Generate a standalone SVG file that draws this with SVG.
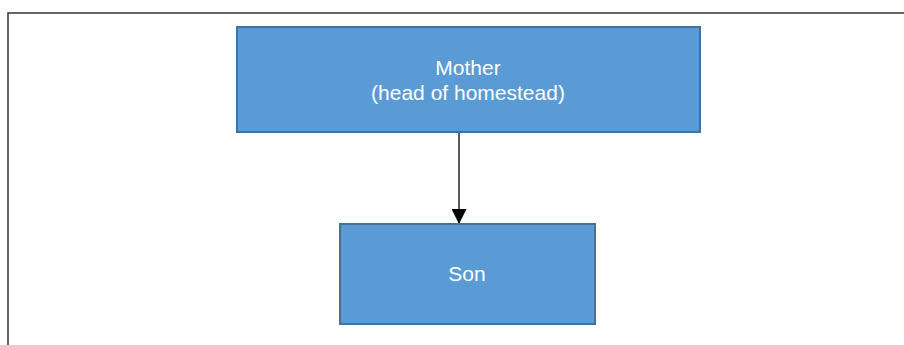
<svg xmlns="http://www.w3.org/2000/svg" width="904" height="345" viewBox="0 0 904 345">
<style>
.node{fill:#5b9bd5;stroke:#41719c;stroke-width:2}
.lbl{font-family:"Liberation Sans",Arial,sans-serif;font-size:21px;fill:#ffffff;text-anchor:middle}
.frame{fill:none;stroke:#333333;stroke-width:1.5}
.conn{stroke:#000000;stroke-width:1.3;fill:none}
</style>
<defs>
<marker id="arr" markerWidth="15" markerHeight="15" refX="15" refY="7.5" orient="auto" markerUnits="userSpaceOnUse">
<path d="M0,0 L15,7.5 L0,15 Z" fill="#000000"/>
</marker>
</defs>
<rect class="frame" x="8" y="13" width="910" height="350"/>
<g id="connectors">
<line class="conn" x1="459" y1="132" x2="459" y2="224" marker-end="url(#arr)"/>
</g>
<g id="mother">
<rect class="node" x="237" y="27" width="463" height="105"/>
<text class="lbl" x="468" y="75">Mother</text>
<text class="lbl" x="468" y="99.5">(head of homestead)</text>
</g>
<g id="son">
<rect class="node" x="340" y="224" width="255" height="100"/>
<text class="lbl" x="467" y="281">Son</text>
</g>
</svg>
